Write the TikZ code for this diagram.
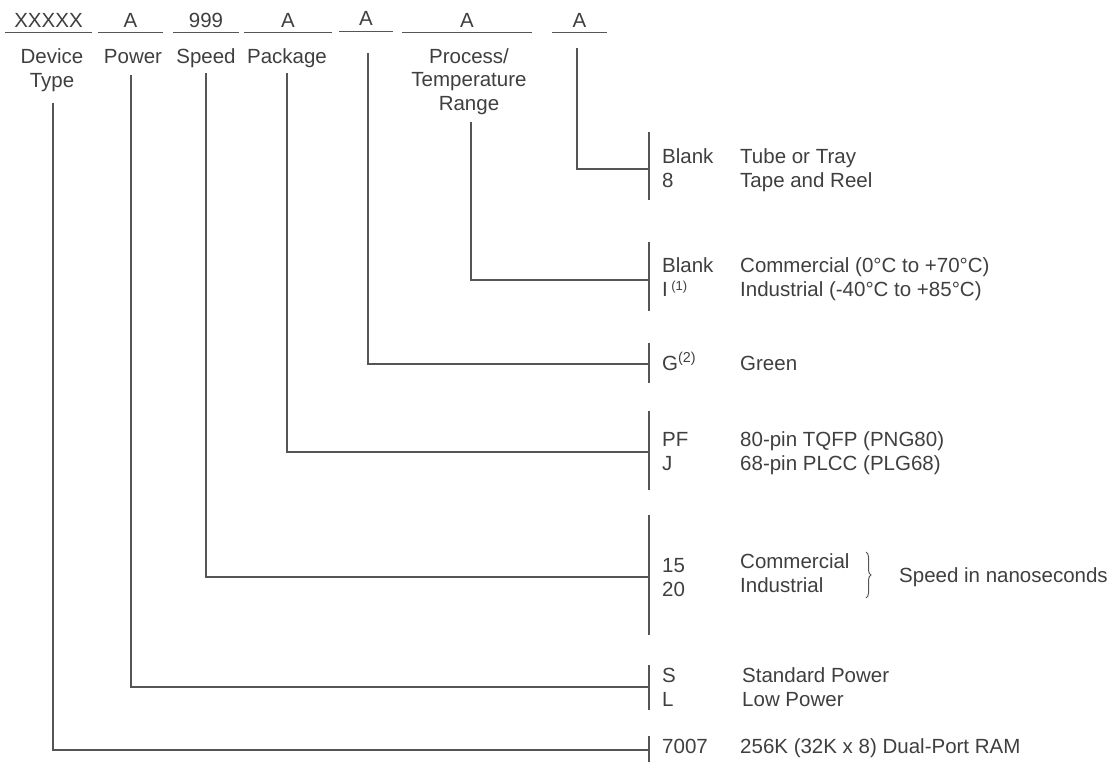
\documentclass[tikz,border=0pt]{standalone}
\usepackage{fontspec}
\setmainfont{Liberation Sans}
\usetikzlibrary{decorations.pathreplacing}
\definecolor{textgray}{HTML}{3F3F3F}
\definecolor{linegray}{HTML}{555555}

\begin{document}
\begin{tikzpicture}[x=1pt,y=-1pt,
	txt/.style={text=textgray,inner sep=0pt,font=\fontsize{20.5}{23.5}\selectfont},
	field/.style={txt,anchor=base,minimum width=#1,text depth=5pt},
	lbl/.style={txt,anchor=base,align=center},
	item/.style={txt,anchor=base west,align=left},
	lead/.style={draw=linegray,line width=1.3pt}]
\useasboundingbox (0,0) rectangle (1120,761);

\node[field=87] (fdev) at (48.5,27) {XXXXX};
\node[field=65] (fpow) at (130.5,27) {A};
\node[field=66] (fspd) at (206,27) {999};
\node[field=88] (fpkg) at (288,27) {A};
\node[field=54,text depth=6pt] (fgrn) at (366,25) {A};
\node[field=130] (ftmp) at (467,27) {A};
\node[field=55] (fshp) at (579.5,27) {A};
\foreach \f in {fdev,fpow,fspd,fpkg,fgrn,ftmp,fshp}
	\draw[lead] (\f.south west) -- (\f.south east);

\node[lbl] (ldev) at (52,87) {Device\\Type};
\node[lbl] (lpow) at (133,63) {Power};
\node[lbl] (lspd) at (206,63) {Speed};
\node[lbl] (lpkg) at (287,63) {Package};
\node[lbl] (ltmp) at (469,110) {Process/\\Temperature\\Range};

\coordinate (vdev) at (53,103);
\coordinate (vpow) at (131,75);
\coordinate (vspd) at (206,73);
\coordinate (vpkg) at (287,73);
\coordinate (vgrn) at (368,53);
\coordinate (vtmp) at (471,122);
\coordinate (vshp) at (577,48);

\coordinate (jshp) at (649,169);
\coordinate (jtmp) at (649,280);
\coordinate (jgrn) at (649,364);
\coordinate (jpkg) at (649,452);
\coordinate (jspd) at (649,577);
\coordinate (jpow) at (649,687);
\coordinate (jdev) at (649,750);

\draw[lead] (649,132) -- (649,200);
\draw[lead] (649,242) -- (649,311);
\draw[lead] (649,343) -- (649,383);
\draw[lead] (649,411) -- (649,490);
\draw[lead] (649,515) -- (649,635);
\draw[lead] (649,665) -- (649,710);
\draw[lead] (649,736) -- (649,763);

\draw[lead] (vshp) |- (jshp);
\draw[lead] (vtmp) |- (jtmp);
\draw[lead] (vgrn) |- (jgrn);
\draw[lead] (vpkg) |- (jpkg);
\draw[lead] (vspd) |- (jspd);
\draw[lead] (vpow) |- (jpow);
\draw[lead] (vdev) |- (jdev);

\node[item] (cshp) at (662,187) {Blank\\8};
\node[item] (dshp) at (740,187) {Tube or Tray\\Tape and Reel};
\node[item] (ctmp) at (662,296) {Blank\\I\,\raisebox{0.55ex}{\fontsize{13}{13}\selectfont(1)}};
\node[item] (dtmp) at (740,296) {Commercial (0°C to +70°C)\\Industrial (-40°C to +85°C)};
\node[item] (cgrn) at (662,370) {G\textsuperscript{(2)}};
\node[item] (dgrn) at (740,370) {Green};
\node[item] (cpkg) at (662,470) {PF\\J};
\node[item] (dpkg) at (740,470) {80-pin TQFP (PNG80)\\68-pin PLCC (PLG68)};
\node[item] (cspd) at (662,596) {15\\20};
\node[item] (dspd) at (740,592) {Commercial\\Industrial};
\draw[draw=linegray,line width=1pt,decorate,decoration={brace,amplitude=5pt}] (866,552) -- (866,598);
\node[item] (nspd) at (899,582) {Speed in nanoseconds};
\node[item] (cpow) at (662,706) {S\\L};
\node[item] (dpow) at (742,706) {Standard Power\\Low Power};
\node[item] (cdev) at (662,753) {7007};
\node[item] (ddev) at (740,753) {256K (32K x 8) Dual-Port RAM};
\end{tikzpicture}
\end{document}
